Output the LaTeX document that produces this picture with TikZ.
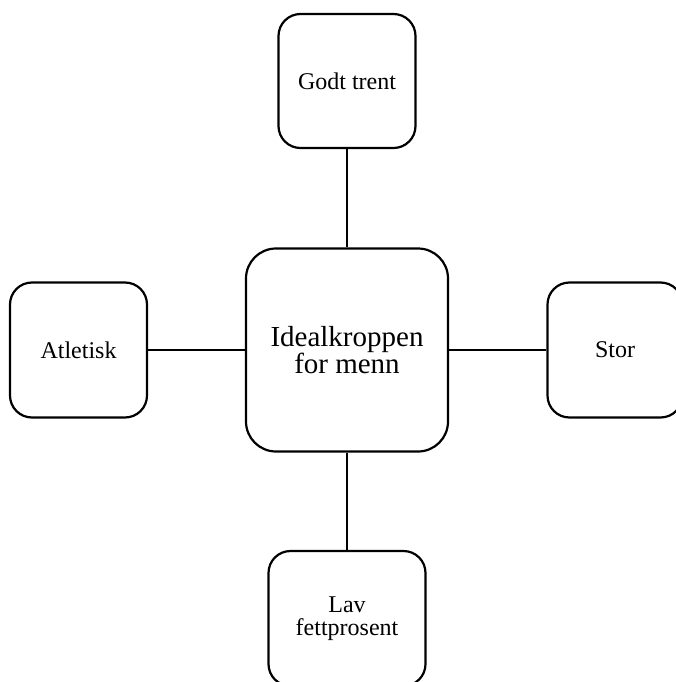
\documentclass[tikz,border=0pt]{standalone}
\usepackage{fontspec}
\setmainfont{Liberation Serif}
\begin{document}
\begin{tikzpicture}[x=1pt,y=1pt,
  box/.style={draw=black,line width=2.2pt,rounded corners=22pt,inner sep=0pt,
    align=center,font=\fontsize{24}{23}\selectfont},
  hub/.style={box,rounded corners=30pt,font=\fontsize{29}{25}\selectfont},
  link/.style={line width=2.2pt}]
\useasboundingbox (0,0) rectangle (675,-682);
\node[hub,minimum width=202pt,minimum height=203pt] (ideal) at (347,-350) {Idealkroppen\\for menn};
\node[box,minimum width=137pt,minimum height=134pt] (trent) at (347,-81) {Godt trent};
\node[box,minimum width=137pt,minimum height=135pt] (atletisk) at (78.5,-350) {Atletisk};
\node[box,minimum width=135pt,minimum height=135pt] (stor) at (615,-350) {Stor};
\node[box,minimum width=157pt,minimum height=135pt] (fett) at (347,-618.5) {Lav\\fettprosent};
\draw[link] (trent) -- (ideal);
\draw[link] (atletisk) -- (ideal);
\draw[link] (ideal) -- (stor);
\draw[link] (ideal) -- (fett);
\end{tikzpicture}
\end{document}
